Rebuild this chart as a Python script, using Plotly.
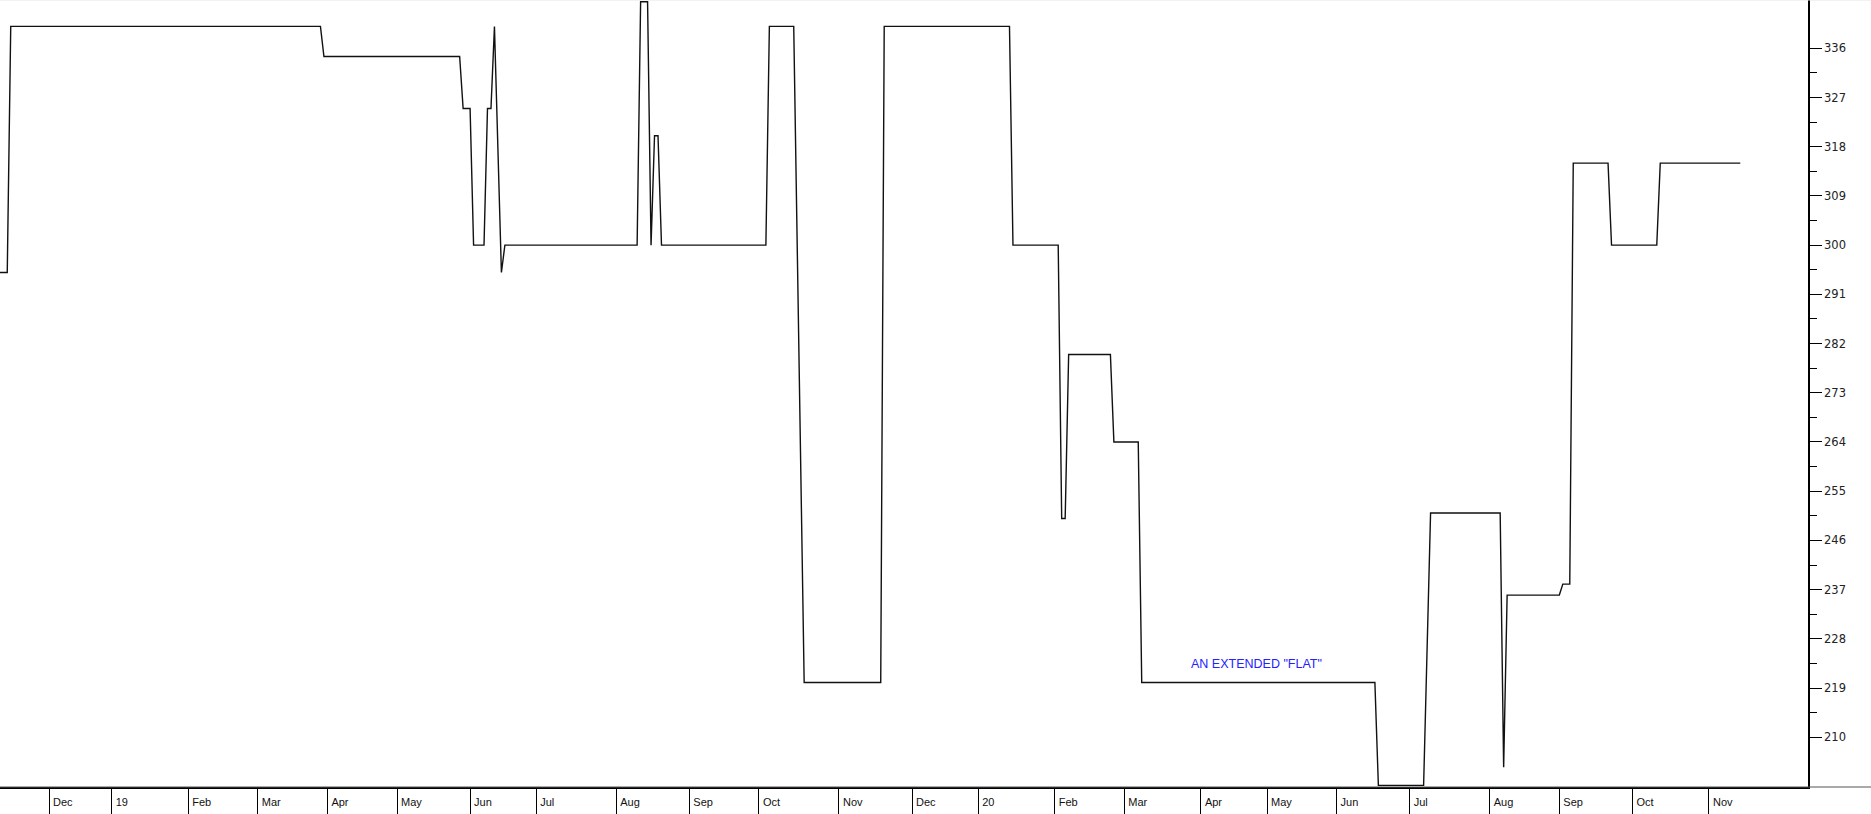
import plotly.graph_objects as go

# ---- data ----
dates = [
    "2018-11-01", "2018-11-15", "2018-11-16",
    "2019-03-28", "2019-03-29",
    "2019-05-29", "2019-05-30", "2019-06-03", "2019-06-04", "2019-06-07",
    "2019-06-10", "2019-06-11", "2019-06-12", "2019-06-14", "2019-06-18",
    "2019-08-12", "2019-08-13", "2019-08-15", "2019-08-16", "2019-08-19",
    "2019-08-20", "2019-08-21",
    "2019-10-03", "2019-10-04", "2019-10-15", "2019-10-18",
    "2019-11-19", "2019-11-20",
    "2020-01-15", "2020-01-16", "2020-02-04", "2020-02-05", "2020-02-06",
    "2020-02-07", "2020-02-25", "2020-02-26", "2020-03-06", "2020-03-09",
    "2020-06-17", "2020-06-18", "2020-07-07", "2020-07-09",
    "2020-08-06", "2020-08-07", "2020-08-11",
    "2020-09-01", "2020-09-02", "2020-09-04", "2020-09-07",
    "2020-09-21", "2020-09-22", "2020-10-12", "2020-10-13", "2020-11-13",
]
prices = [
    295, 295, 340,
    340, 334.5,
    334.5, 325, 325, 300, 300,
    325, 325, 340, 295, 300,
    300, 344.5, 344.5, 300, 320,
    320, 300,
    300, 340, 340, 220,
    220, 340,
    340, 300, 300, 250, 250,
    280, 280, 264, 264, 220,
    220, 201.2, 201.2, 251,
    251, 204.5, 236,
    236, 238, 238, 315,
    315, 300, 300, 315, 315,
]

# JSE non-trading weekdays (public holidays) in the displayed period
holidays = [
    "2018-12-17", "2018-12-25", "2018-12-26",
    "2019-01-01", "2019-03-21", "2019-04-19", "2019-04-22", "2019-05-01",
    "2019-05-08", "2019-06-17", "2019-08-09", "2019-09-24", "2019-12-16",
    "2019-12-25", "2019-12-26",
    "2020-01-01", "2020-04-10", "2020-04-13", "2020-04-27", "2020-05-01",
    "2020-06-16", "2020-08-10", "2020-09-24",
]

month_ticks = [
    "2018-12-03", "2019-01-02", "2019-02-01", "2019-03-01", "2019-04-01",
    "2019-05-02", "2019-06-03", "2019-07-01", "2019-08-01", "2019-09-02",
    "2019-10-01", "2019-11-01", "2019-12-02", "2020-01-02", "2020-02-03",
    "2020-03-02", "2020-04-01", "2020-05-04", "2020-06-01", "2020-07-01",
    "2020-08-03", "2020-09-01", "2020-10-01", "2020-11-02",
]
month_labels = [
    "Dec", "19", "Feb", "Mar", "Apr", "May", "Jun", "Jul", "Aug", "Sep",
    "Oct", "Nov", "Dec", "20", "Feb", "Mar", "Apr", "May", "Jun", "Jul",
    "Aug", "Sep", "Oct", "Nov",
]

y_ticks = [210, 219, 228, 237, 246, 255, 264, 273, 282, 291, 300, 309, 318, 327, 336]
y_minor = [214.5, 223.5, 232.5, 241.5, 250.5, 259.5, 268.5, 277.5, 286.5,
           295.5, 304.5, 313.5, 322.5, 331.5]

note_text = 'AN EXTENDED "FLAT"'
note_x = "2020-04-28"
note_y = 223.4

# ---- figure ----
fig = go.Figure()
fig.add_trace(go.Scatter(
    x=dates, y=prices, mode="lines",
    line=dict(color="#111111", width=1.4),
    hoverinfo="skip",
))

fig.update_layout(
    width=1871, height=814,
    margin=dict(l=0, r=63, t=0, b=27),
    paper_bgcolor="white", plot_bgcolor="white",
    showlegend=False,
    xaxis=dict(
        type="date",
        range=["2018-11-12 22:00", "2020-12-10 11:00"],
        rangebreaks=[dict(bounds=["sat", "mon"]), dict(values=holidays)],
        tickmode="array", tickvals=month_ticks, ticktext=month_labels,
        ticks="", ticklabelposition="outside right", ticklabelshift=3,
        ticklabelstandoff=4,
        tickfont=dict(family="Arial", size=11, color="#111111"),
        showgrid=False, zeroline=False,
        showline=True, linecolor="black", linewidth=2,
        minor=dict(tickmode="array", tickvals=month_ticks, ticks="outside",
                   ticklen=25, tickcolor="black", tickwidth=1, showgrid=False),
        fixedrange=True,
    ),
    yaxis=dict(
        side="right",
        range=[200.9, 344.83],
        tickmode="array", tickvals=y_ticks,
        ticks="outside", ticklen=12, tickcolor="black", tickwidth=1,
        tickfont=dict(family="DejaVu Sans", size=11.5, color="#222222"),
        showline=True, linecolor="black", linewidth=1.5,
        showgrid=False, zeroline=False,
        minor=dict(tickmode="array", tickvals=y_minor, ticks="outside",
                   ticklen=7, tickcolor="black", tickwidth=1, showgrid=False),
        fixedrange=True,
    ),
    annotations=[dict(
        x=note_x, y=note_y, xref="x", yref="y", text=note_text,
        showarrow=False, xanchor="center", yanchor="middle",
        font=dict(family="Arial", size=12.5, color="#2222ff"),
    )],
    shapes=[
        dict(type="line", xref="paper", yref="paper", x0=0, x1=1.04, y0=0, y1=0,
             line=dict(color="#555555", width=1)),
        dict(type="line", xref="paper", yref="paper", x0=0, x1=1.04, y0=1, y1=1,
             line=dict(color="#e6e6e6", width=1)),
    ],
)

fig.write_html(
    "out.html",
    config={"displayModeBar": False},
    post_script="document.body.style.margin='0';document.body.style.overflow='hidden';",
)
